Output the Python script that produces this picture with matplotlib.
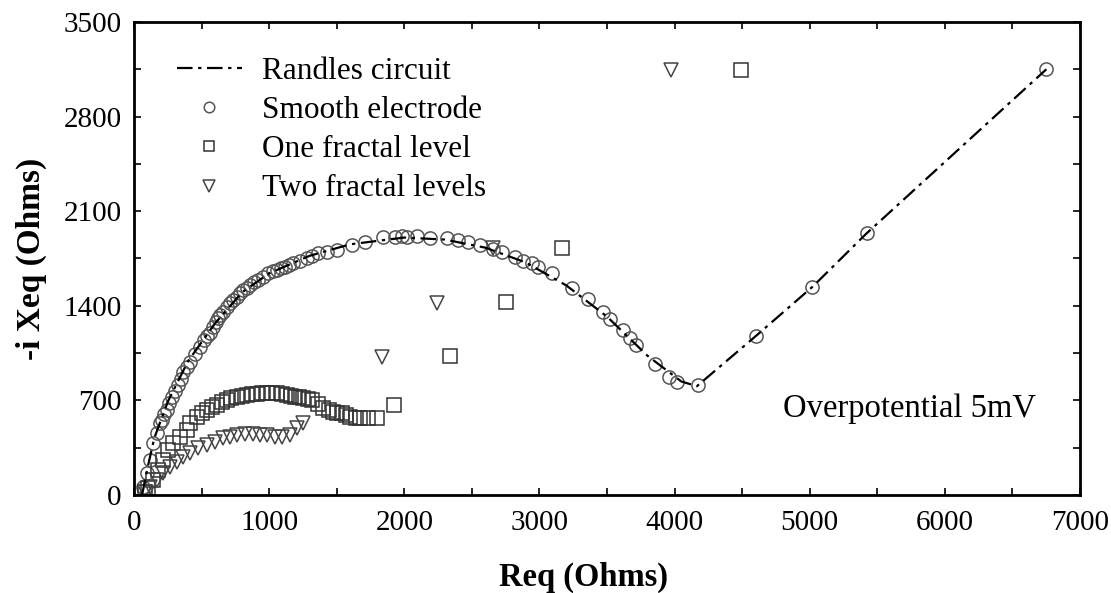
import matplotlib
matplotlib.use("Agg")
import matplotlib.pyplot as plt
from matplotlib.ticker import MultipleLocator

plt.rcParams['font.family'] = ['Liberation Serif', 'DejaVu Serif']

# Randles circuit fit
randles_x = [60, 100, 150, 250, 400, 600, 800, 1000, 1300, 1600, 2000, 2300,
             2600, 2900, 3200, 3500, 3800, 4050, 4165, 4600, 5020, 5420, 6751]
randles_y = [0, 200, 420, 690, 990, 1270, 1500, 1640, 1770, 1855, 1905, 1890,
             1830, 1720, 1550, 1320, 1030, 840, 805, 1175, 1540, 1935, 3150]

# Smooth electrode
smooth_x = [69, 94, 118, 143, 168, 190, 205, 225, 242, 260, 279, 300, 328, 345,
            365, 390, 415, 450, 489, 520, 540, 563, 587, 605, 624, 640, 661, 685,
            711, 735, 760, 785, 809, 835, 859, 890, 920, 955, 994, 1025, 1056,
            1090, 1118, 1150, 1179, 1230, 1278, 1320, 1364, 1430, 1500, 1611,
            1710, 1845, 1932, 1981, 2018, 2092, 2191, 2314, 2400, 2475, 2561,
            2660, 2721, 2820, 2881, 2943, 2992, 3092, 3239, 3363, 3469, 3523,
            3622, 3672, 3716, 3856, 3962, 4017, 4172, 4601, 5016, 5423, 6751]
smooth_y = [61, 160, 259, 382, 457, 530, 555, 600, 629, 680, 728, 770, 814, 860,
            913, 950, 987, 1040, 1098, 1150, 1175, 1197, 1246, 1280, 1308, 1330,
            1357, 1390, 1419, 1445, 1468, 1495, 1517, 1535, 1554, 1575, 1591,
            1615, 1641, 1655, 1665, 1680, 1690, 1703, 1715, 1735, 1752, 1770,
            1789, 1800, 1813, 1851, 1875, 1907, 1912, 1917, 1907, 1917, 1900,
            1900, 1887, 1875, 1851, 1820, 1801, 1759, 1732, 1714, 1690, 1641,
            1530, 1450, 1357, 1303, 1221, 1165, 1110, 968, 876, 838, 816, 1177,
            1542, 1937, 3151]

# One fractal level
one_x = [80, 106, 143, 180, 217, 254, 291, 340, 390, 415, 464, 500, 538, 575,
         612, 650, 686, 720, 760, 800, 834, 870, 908, 945, 982, 1020, 1056,
         1095, 1130, 1160, 1192, 1220, 1253, 1285, 1315, 1360, 1401, 1440,
         1475, 1505, 1537, 1570, 1599, 1640, 1673, 1735, 1796, 1924, 2339,
         2753, 3168, 4493]
one_y = [20, 50, 111, 185, 259, 333, 382, 432, 481, 531, 580, 605, 629, 650,
         666, 690, 703, 715, 728, 735, 740, 745, 748, 752, 753, 753, 753, 748,
         740, 735, 728, 722, 716, 710, 703, 670, 642, 630, 617, 610, 605, 590,
         580, 570, 567, 567, 567, 666, 1029, 1429, 1828, 3146]

# Two fractal levels
two_x = [80, 118, 168, 217, 266, 316, 365, 415, 476, 538, 600, 661, 711, 760,
         822, 883, 933, 982, 1044, 1093, 1155, 1204, 1253, 1836, 2243, 2660,
         3975]
two_y = [20, 62, 111, 160, 209, 247, 284, 308, 345, 370, 395, 419, 432, 444,
         451, 451, 444, 444, 432, 432, 444, 493, 530, 1021, 1421, 1826, 3146]

fig = plt.figure(figsize=(11.11, 5.93), dpi=100)
ax = fig.add_axes([0.1206, 0.1653, 0.8515, 0.7976])

ax.plot(randles_x, randles_y, color='black', lw=1.6,
        linestyle=(0, (7, 2.5, 1.5, 2.5)), label='Randles circuit', zorder=3)
ax.plot(smooth_x, smooth_y, 'o', ms=9.5, mfc='none', mec='#555555', mew=1.1,
        label='Smooth electrode', zorder=2)
ax.plot(one_x, one_y, 's', ms=9.5, mfc='none', mec='#333333', mew=1.1,
        label='One fractal level', zorder=2)
ax.plot(two_x, two_y, 'v', ms=10, mfc='none', mec='#444444', mew=1.1,
        label='Two fractal levels', zorder=2)

ax.set_xlim(0, 7000)
ax.set_ylim(0, 3500)
ax.xaxis.set_major_locator(MultipleLocator(1000))
ax.xaxis.set_minor_locator(MultipleLocator(500))
ax.yaxis.set_major_locator(MultipleLocator(700))
ax.yaxis.set_minor_locator(MultipleLocator(350))
ax.tick_params(which='both', direction='in', top=True, right=True,
               length=5, width=1.2, labelsize=21)
ax.tick_params(axis='x', pad=11)
ax.tick_params(axis='y', pad=9)
for s in ax.spines.values():
    s.set_linewidth(2)

ax.set_xlabel('Req (Ohms)', fontsize=23.5, fontweight='bold')
ax.xaxis.set_label_coords(0.475, -0.142)
ax.set_ylabel('-i Xeq (Ohms)', fontsize=24, fontweight='bold', labelpad=12)

ax.text(0.686, 0.165, 'Overpotential 5mV', transform=ax.transAxes,
        fontsize=23.5, va='baseline')

ax.legend(loc='upper left', bbox_to_anchor=(0.045, 0.927), frameon=False,
          fontsize=22.5, handlelength=2.1, handletextpad=0.65, labelspacing=0.33,
          borderpad=0, borderaxespad=0, markerscale=0.8)

fig.savefig('out.png', dpi=100)
